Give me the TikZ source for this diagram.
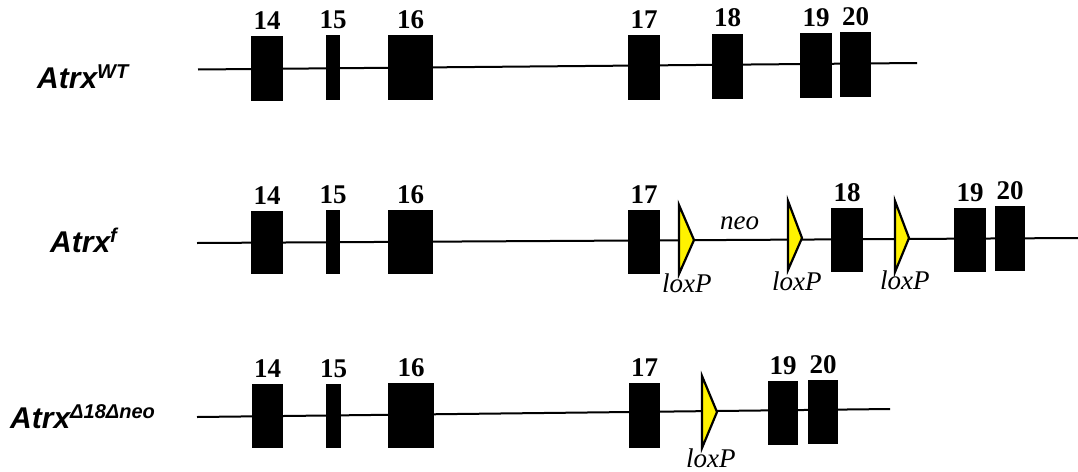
\documentclass[tikz,border=0pt]{standalone}
\usepackage{fontspec}
\setmainfont{Liberation Serif}
\newfontfamily\lsans{Liberation Sans}
\tikzset{
  exon/.style={fill=black, draw=none, inner sep=0pt, outer sep=0pt},
  num/.style={font=\fontsize{27}{30}\selectfont\bfseries, inner sep=0pt, anchor=base},
  backbone/.style={line width=2pt, black},
  loxp/.style={fill=yellow, draw=black, line width=2.2pt, line join=miter, miter limit=20},
  itlabel/.style={font=\fontsize{27}{30}\selectfont\itshape, inner sep=0pt, anchor=base west},
  allele/.style={font=\lsans\bfseries\itshape, inner sep=0pt, anchor=base west},
}
\newcommand\exon[6]{%
  \node[exon, minimum width={(#4-#2)*1pt}, minimum height={(#5-#3)*1pt}] (#1) at ({(#2+#4)/2},{(#3+#5)/2}) {};
  \path (#1.north) ++(0,-7) node[num] {#6};}
\newcommand\allelename[1]{{\fontsize{30}{32}\selectfont Atrx}\raisebox{10pt}{\fontsize{20}{22}\selectfont #1}}
\begin{document}
\begin{tikzpicture}[x=1pt,y=-1pt]
\useasboundingbox (0,0) rectangle (1078,471);
% ---------- Row 1: WT ----------
\coordinate (s1) at (198,69.5);
\coordinate (e1) at (917,63);
\draw[backbone] (s1) -- (e1);
\exon{a14}{251}{36}{283}{101}{14}
\exon{a15}{326}{35}{340}{100}{15}
\exon{a16}{388}{35}{433}{100}{16}
\exon{a17}{628}{35}{660}{100}{17}
\exon{a18}{712}{34}{743}{99}{18}
\exon{a19}{800}{33}{832}{98}{19}
\exon{a20}{840}{32}{871}{97}{20}
\node[allele] (l1) at (37,88) {\allelename{WT}};
% ---------- Row 2: floxed ----------
\coordinate (s2) at (197,243);
\coordinate (e2) at (1078,238);
\draw[backbone] (s2) -- (e2);
\exon{b14}{251}{211}{283}{274}{14}
\exon{b15}{326}{210}{340}{274}{15}
\exon{b16}{388}{210}{433}{274}{16}
\exon{b17}{628}{210}{660}{274}{17}
\exon{b18}{831}{208}{863}{272}{18}
\exon{b19}{954}{208}{986}{272}{19}
\exon{b20}{995}{206}{1025}{271}{20}
\draw[loxp] (679,205) -- (694,240) -- (679,274) -- cycle;
\draw[loxp] (788,201) -- (802,238) -- (788,270) -- cycle;
\draw[loxp] (895,201) -- (909,238) -- (895,272) -- cycle;
\node[itlabel] (x1) at (662,292) {loxP};
\node[itlabel] (x2) at (772,290) {loxP};
\node[itlabel] (x3) at (880,289) {loxP};
\node[itlabel] (neo) at (720,229) {neo};
\node[allele] (l2) at (50,252) {\allelename{f}};
% ---------- Row 3: deleted ----------
\coordinate (s3) at (197,417);
\coordinate (e3) at (890,409);
\draw[backbone] (s3) -- (e3);
\exon{c14}{252}{384}{283}{448}{14}
\exon{c15}{326}{384}{341}{448}{15}
\exon{c16}{388}{383}{434}{448}{16}
\exon{c17}{629}{383}{660}{448}{17}
\exon{c19}{768}{381}{798}{445}{19}
\exon{c20}{808}{380}{838}{444}{20}
\draw[loxp] (702,376) -- (717,412) -- (702,448) -- cycle;
\node[itlabel] (x4) at (686,467) {loxP};
\node[allele] (l3) at (10,428) {\allelename{Δ18Δneo}};
\end{tikzpicture}
\end{document}
